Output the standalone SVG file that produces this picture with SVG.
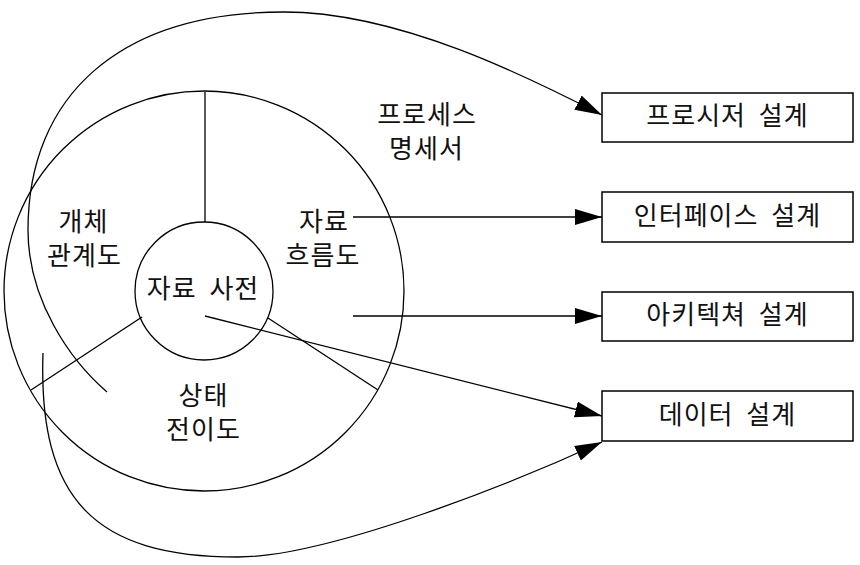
<svg xmlns="http://www.w3.org/2000/svg" width="860" height="565" viewBox="0 0 860 565">
  <style>
    .ln { fill: none; stroke: #000; stroke-width: 1.3; }
    .box { fill: #fff; stroke: #000; stroke-width: 1.5; }
    .t { font-family: "Noto Sans CJK KR", "Noto Sans", sans-serif; font-size: 26px; letter-spacing: 1px; word-spacing: 6px; fill: #111; text-anchor: middle; }
  </style>
  <defs>
    <marker id="arrow" markerUnits="userSpaceOnUse" markerWidth="28" markerHeight="18" viewBox="0 0 28 18" refX="27" refY="8" orient="auto">
      <path d="M0,0 L27,8 L0,16 z" fill="#000"/>
    </marker>
  </defs>
  <rect width="860" height="565" fill="#fff"/>

  <g id="rings">
    <circle class="ln" cx="204" cy="291" r="200"/>
    <circle class="ln" cx="204" cy="291" r="69"/>
    <line class="ln" x1="205" y1="92" x2="205" y2="222"/>
    <line class="ln" x1="142" y1="317" x2="31" y2="390"/>
    <line class="ln" x1="268" y1="318" x2="378" y2="390"/>
  </g>

  <g id="connectors">
    <path class="ln" d="M107,392 C70,360 28,300 28,230 C28,95 120,12 284,12 C400,12 530,78 602,115" marker-end="url(#arrow)"/>
    <line class="ln" x1="353" y1="217" x2="602" y2="217" marker-end="url(#arrow)"/>
    <line class="ln" x1="353" y1="316" x2="602" y2="316" marker-end="url(#arrow)"/>
    <line class="ln" x1="205" y1="316" x2="602" y2="416" marker-end="url(#arrow)"/>
    <path class="ln" d="M43,353 C38,500 95,557 238,557 C330,557 520,480 602,442" marker-end="url(#arrow)"/>
  </g>

  <g id="label-dictionary"><text class="t" x="203" y="298">자료 사전</text></g>
  <g id="label-process-spec">
    <text class="t" x="427" y="124">프로세스</text>
    <text class="t" x="426.5" y="158">명세서</text>
  </g>
  <g id="label-dfd">
    <text class="t" x="324" y="231">자료</text>
    <text class="t" x="323" y="265">흐름도</text>
  </g>
  <g id="label-erd">
    <text class="t" x="83.5" y="231">개체</text>
    <text class="t" x="84.5" y="265">관계도</text>
  </g>
  <g id="label-std">
    <text class="t" x="203.5" y="405">상태</text>
    <text class="t" x="203.5" y="439">전이도</text>
  </g>

  <g id="node-procedure">
    <rect class="box" x="602" y="93" width="251" height="49"/>
    <text class="t" x="727.5" y="125">프로시저 설계</text>
  </g>
  <g id="node-interface">
    <rect class="box" x="602" y="192" width="251" height="50"/>
    <text class="t" x="727.5" y="225">인터페이스 설계</text>
  </g>
  <g id="node-architecture">
    <rect class="box" x="602" y="292" width="251" height="49"/>
    <text class="t" x="727.5" y="324">아키텍쳐 설계</text>
  </g>
  <g id="node-data">
    <rect class="box" x="602" y="391" width="251" height="50"/>
    <text class="t" x="727.5" y="424">데이터 설계</text>
  </g>
</svg>
